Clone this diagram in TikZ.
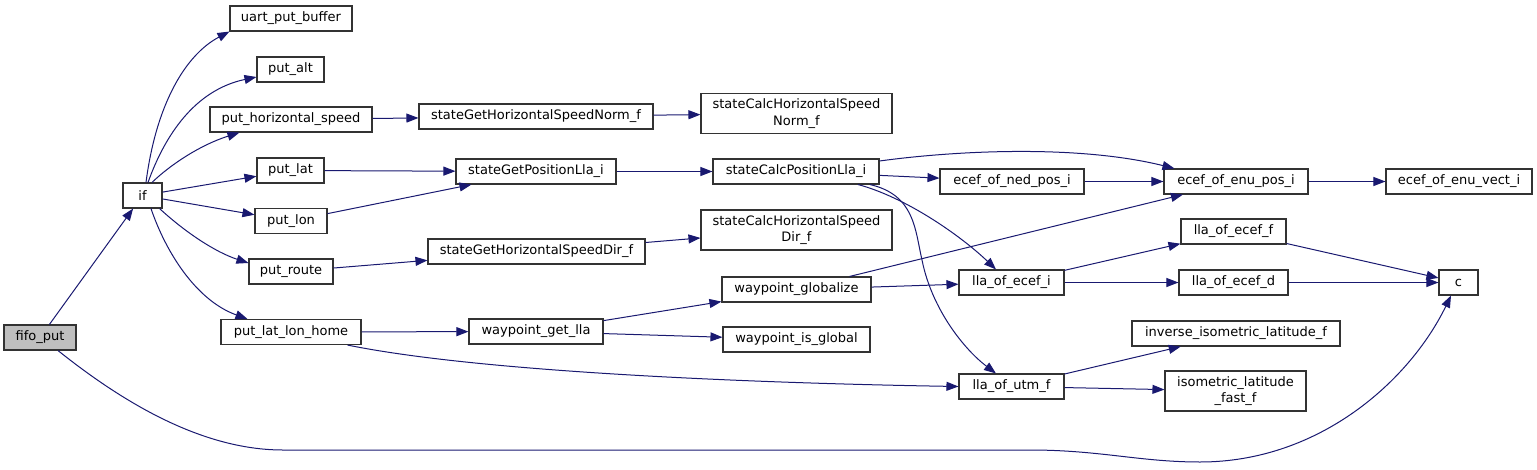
\documentclass[tikz,border=0pt]{standalone}
\usepackage{fontspec}
\setmainfont{DejaVu Sans}
\usetikzlibrary{arrows.meta}
\definecolor{edgec}{HTML}{191970}
\definecolor{borderc}{HTML}{333333}
\definecolor{rootfill}{HTML}{BFBFBF}
\begin{document}
\begin{tikzpicture}[x=1pt,y=-1pt,
  fn/.style={draw=borderc, line width=1.1pt, fill=white, rectangle, inner sep=0pt,
    minimum height=25pt, align=center, font=\fontsize{13}{16.5}\selectfont},
  root/.style={fn, fill=rootfill},
  two/.style={minimum height=40pt},
  edge/.style={draw=edgec, line width=1pt, -{Triangle[length=12pt,width=9pt]}}]
\useasboundingbox (0,0) rectangle (1537,469);

% nodes
\node[root, minimum width=72pt] (fifo) at (40,337.5) {fifo\_put};
\node[fn, minimum width=39pt] (if) at (142.5,195.5) {if};
\node[fn, minimum width=122pt] (uart) at (291,18.5) {uart\_put\_buffer};
\node[fn, minimum width=67pt] (putalt) at (290.5,69.5) {put\_alt};
\node[fn, minimum width=162pt] (puths) at (291,119.5) {put\_horizontal\_speed};
\node[fn, minimum width=67pt] (putlat) at (290.5,170.5) {put\_lat};
\node[fn, minimum width=72pt] (putlon) at (291,221) {put\_lon};
\node[fn, minimum width=84pt] (putroute) at (291,271.5) {put\_route};
\node[fn, minimum width=140pt] (putllh) at (291,332) {put\_lat\_lon\_home};
\node[fn, minimum width=234pt] (sghsn) at (536,116.5) {stateGetHorizontalSpeedNorm\_f};
\node[fn, two, minimum width=191pt] (schsn) at (796.5,113.5) {stateCalcHorizontalSpeed\\Norm\_f};
\node[fn, minimum width=160pt] (sgpl) at (536,171.5) {stateGetPositionLla\_i};
\node[fn, minimum width=166pt] (scpl) at (796,171.5) {stateCalcPositionLla\_i};
\node[fn, minimum width=217pt] (sghsd) at (536.5,251.5) {stateGetHorizontalSpeedDir\_f};
\node[fn, two, minimum width=191pt] (schsd) at (796.5,230) {stateCalcHorizontalSpeed\\Dir\_f};
\node[fn, minimum width=149pt] (wglob) at (796.5,289.5) {waypoint\_globalize};
\node[fn, minimum width=134pt] (wgl) at (536,331.5) {waypoint\_get\_lla};
\node[fn, minimum width=147pt] (wisg) at (796.5,339.5) {waypoint\_is\_global};
\node[fn, minimum width=144pt] (ecefned) at (1012,181.5) {ecef\_of\_ned\_pos\_i};
\node[fn, minimum width=144pt] (ecefenu) at (1236,181.5) {ecef\_of\_enu\_pos\_i};
\node[fn, minimum width=146pt] (ecefvect) at (1459,181.5) {ecef\_of\_enu\_vect\_i};
\node[fn, minimum width=105pt] (llaef) at (1233.5,231.5) {lla\_of\_ecef\_f};
\node[fn, minimum width=105pt] (llaei) at (1011.5,282.5) {lla\_of\_ecef\_i};
\node[fn, minimum width=109pt] (llaed) at (1233.5,282.5) {lla\_of\_ecef\_d};
\node[fn, minimum width=39pt] (c) at (1458.5,282.5) {c};
\node[fn, minimum width=208pt] (inviso) at (1236,333.5) {inverse\_isometric\_latitude\_f};
\node[fn, minimum width=105pt] (llautm) at (1011.5,386.5) {lla\_of\_utm\_f};
\node[fn, two, minimum width=141pt] (isofast) at (1235.5,391) {isometric\_latitude\\\_fast\_f};

% edges
\draw[edge] (fifo) -- (if);
\draw[edge] ([xshift=18pt]fifo.south) .. controls (120,400) and (200,450) .. (283,450)
  -- (1030,450) .. controls (1100,450) and (1140,462) .. (1200,462)
  .. controls (1320,462) and (1410,380) .. ([xshift=-7.5pt]c.south);
\draw[edge] ([xshift=3.5pt]if.north) .. controls (156,105) and (185,55) .. (uart.south west);
\draw[edge] ([xshift=5.5pt]if.north) .. controls (165,135) and (195,90) .. ([yshift=-7.5pt]putalt.west);
\draw[edge] ([xshift=9.5pt]if.north) .. controls (170,165) and (200,145) .. ([xshift=30pt]puths.south west);
\draw[edge] (if) -- (putlat);
\draw[edge] (if) -- (putlon);
\draw[edge] ([xshift=-3pt]if.south east) .. controls (185,232) and (215,252) .. ([yshift=8.5pt]putroute.west);
\draw[edge] ([xshift=8.5pt]if.south) .. controls (165,250) and (195,300) .. ([xshift=27pt]putllh.north west);
\draw[edge] (puths) -- (sghsn);
\draw[edge] (sghsn) -- (schsn);
\draw[edge] (putlat) -- (sgpl);
\draw[edge] (putlon) -- (sgpl);
\draw[edge] (sgpl) -- (scpl);
\draw[edge] (putroute) -- (sghsd);
\draw[edge] (sghsd) -- (schsd);
\draw[edge] (putllh) -- (wgl);
\draw[edge] ([xshift=-14pt]putllh.south east) .. controls (480,372) and (750,383) .. (llautm.west);
\draw[edge] (wgl) -- (wglob);
\draw[edge] (wgl) -- (wisg);
\draw[edge] (wglob) -- (ecefenu);
\draw[edge] (wglob) -- (llaei);
\draw[edge] ([yshift=10.5pt]scpl.east) .. controls (960,150) and (1080,145) .. ([xshift=11pt]ecefenu.north west);
\draw[edge] (scpl) -- (ecefned);
\draw[edge] ([xshift=62pt]scpl.south) .. controls (905,197) and (960,235) .. ([xshift=-15.5pt]llaei.north);
\draw[edge] ([xshift=74pt]scpl.south) .. controls (915,195) and (915,230) .. (922,260)
  .. controls (932,310) and (965,350) .. ([xshift=-15.5pt]llautm.north);
\draw[edge] (ecefned) -- (ecefenu);
\draw[edge] (ecefenu) -- (ecefvect);
\draw[edge] (llaei) -- (llaef);
\draw[edge] (llaei) -- (llaed);
\draw[edge] (llaef) -- (c);
\draw[edge] (llaed) -- (c);
\draw[edge] (llautm) -- (inviso);
\draw[edge] (llautm) -- (isofast);
\end{tikzpicture}
\end{document}
